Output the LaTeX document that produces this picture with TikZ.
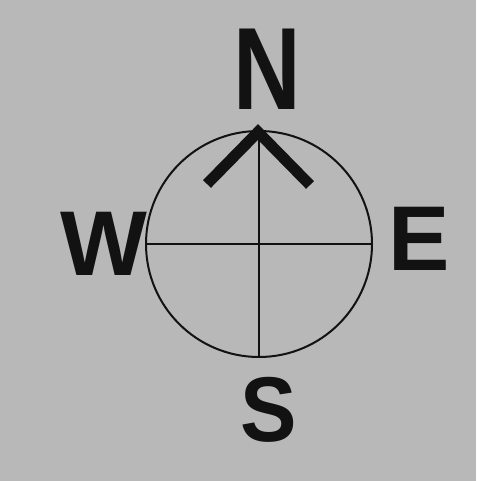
\documentclass[tikz,border=0pt]{standalone}
\usepackage{fontspec}
\setmainfont{Liberation Sans}
\usepackage{xcolor}
\usepackage{tikz}
\usetikzlibrary{positioning}

\definecolor{paper}{RGB}{184,184,184}
\definecolor{ink}{RGB}{18,18,18}

\begin{document}
\begin{tikzpicture}[
    x=1pt, y=-1pt,
    letter/.style={inner sep=0pt, text=ink, font=\fontsize{92}{92}\selectfont\bfseries},
    ring/.style={draw=ink, line width=2pt},
    cross/.style={draw=ink, line width=1.5pt},
    pointer/.style={draw=ink, line width=11pt, line join=miter}
]
\fill[paper] (0,0) rectangle (476,481);
\useasboundingbox (0,0) rectangle (476,481);

\coordinate (c) at (259,244);
\coordinate (tip) at (258,132);

\node[letter, font=\fontsize{117}{117}\selectfont\bfseries, xscale=0.8] (north) at (267,69) {N};
\node[letter] (west) at (104,244) {W};
\node[letter] (east) at (419,239) {E};
\node[letter, xscale=0.92] (south) at (269,410) {S};

\draw[ring] (c) circle[radius=113];
\draw[cross] (146,244) -- (372,244);
\draw[cross] (259,127) -- (259,357);
\draw[pointer] (207,184) -- (tip) -- (310,185);
\end{tikzpicture}
\end{document}
